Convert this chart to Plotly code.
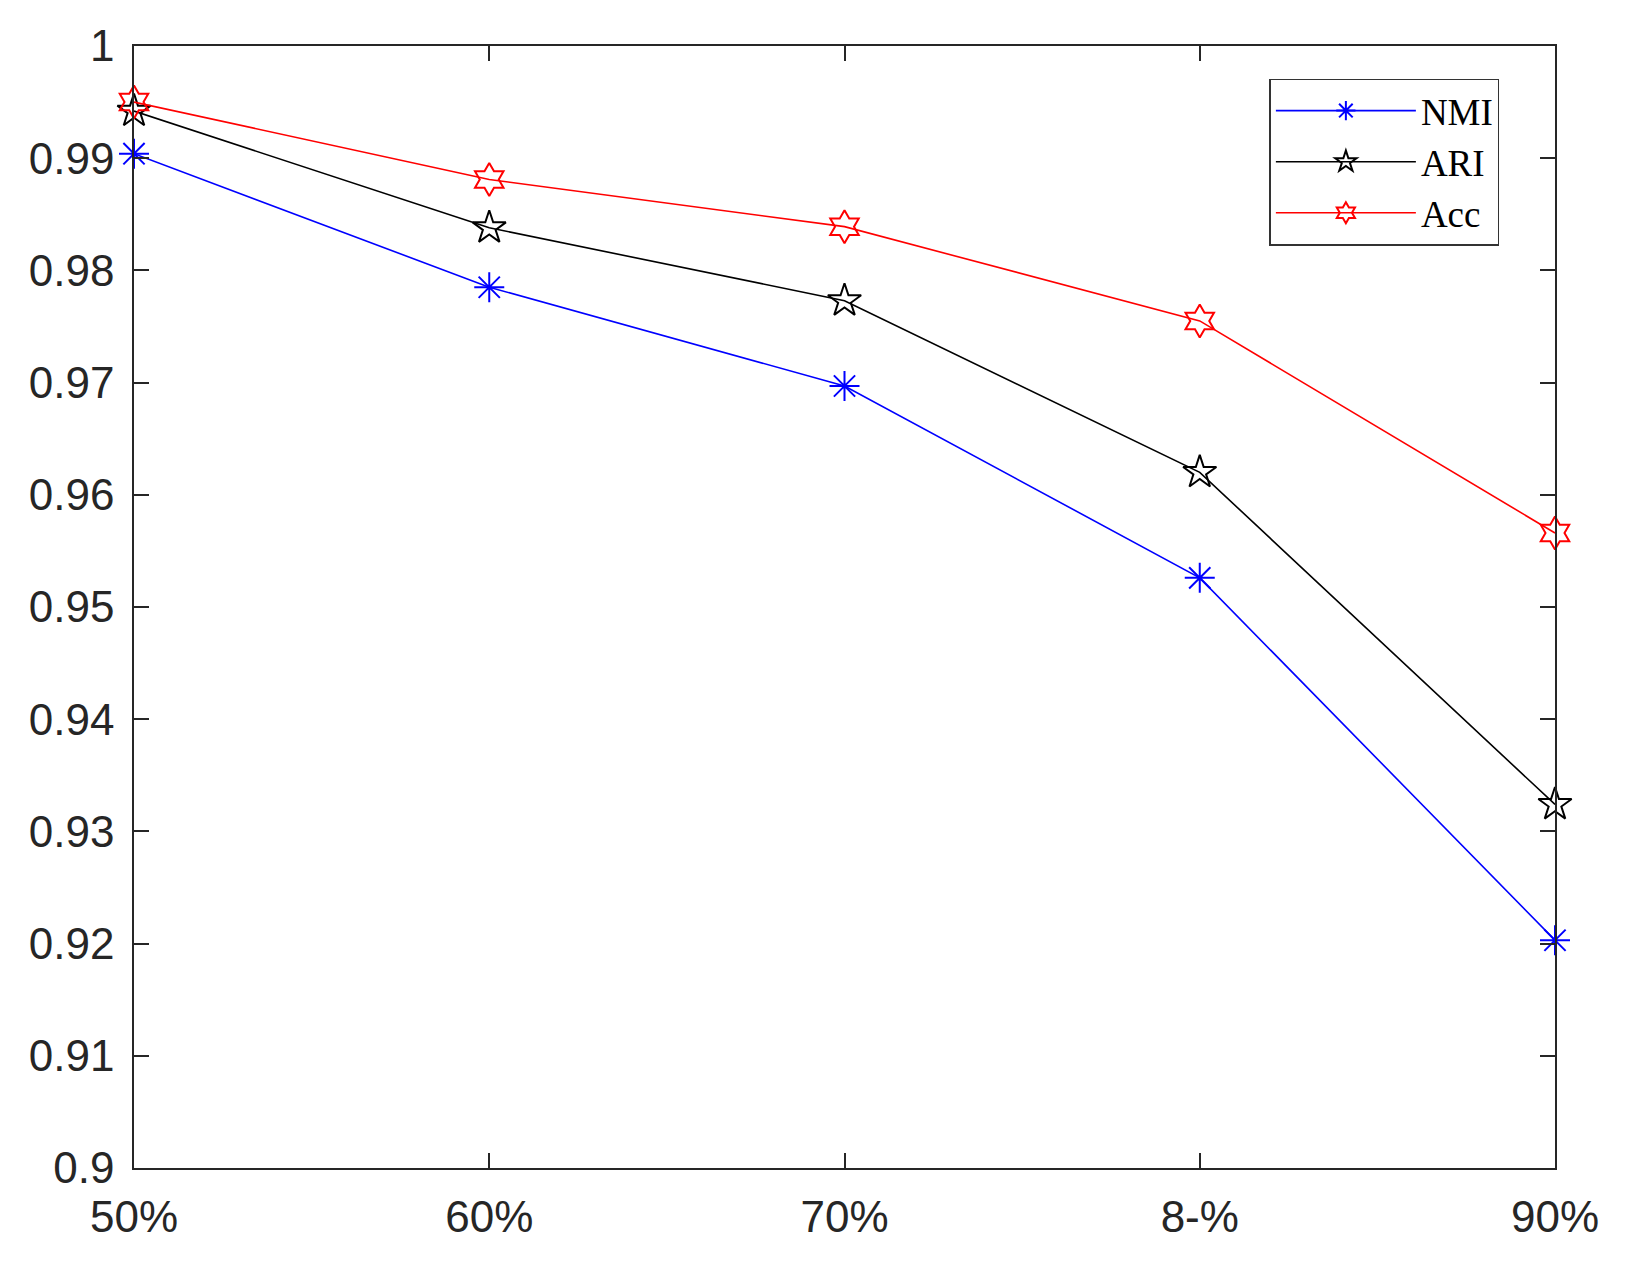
import plotly.graph_objects as go

categories = ["50%", "60%", "70%", "8-%", "90%"]
nmi = [0.9904, 0.9785, 0.9697, 0.9526, 0.9203]
ari = [0.9942, 0.9838, 0.9773, 0.9620, 0.9324]
acc = [0.9950, 0.9881, 0.9839, 0.9755, 0.9566]
y_ticks = [0.9, 0.91, 0.92, 0.93, 0.94, 0.95, 0.96, 0.97, 0.98, 0.99, 1.0]
y_ticktext = ["0.9", "0.91", "0.92", "0.93", "0.94", "0.95", "0.96", "0.97", "0.98", "0.99", "1"]

xpos = list(range(len(categories)))

fig = go.Figure()
series = [
    ("NMI", nmi, "#0000ff", "asterisk-open"),
    ("ARI", ari, "#000000", "star-open"),
    ("Acc", acc, "#ff0000", "hexagram-open"),
]
for name, vals, col, sym in series:
    fig.add_trace(go.Scatter(
        x=xpos, y=vals, name=name, mode="lines+markers",
        line=dict(color=col, width=1.6),
        marker=dict(symbol=sym, size=25, color=col, line=dict(color=col, width=2)),
        cliponaxis=False,
    ))

axis_col = "#262626"
fig.update_layout(
    width=1609, height=1246,
    margin=dict(l=126, r=62, t=38, b=86),
    paper_bgcolor="white", plot_bgcolor="white",
    font=dict(family="Liberation Sans, Arial", size=44, color=axis_col),
    showlegend=True,
    legend=dict(
        x=0.799, y=0.971, xanchor="left", yanchor="top",
        bgcolor="white", bordercolor="#333333", borderwidth=1.5,
        font=dict(family="Liberation Serif, DejaVu Serif", size=37, color="black"),
        itemwidth=140, tracegroupgap=0,
    ),
)
fig.update_xaxes(
    range=[0, 4], tickmode="array", tickvals=xpos, ticktext=categories,
    showgrid=False, zeroline=False, showline=True, linecolor=axis_col, linewidth=1.5,
    mirror="allticks", ticks="inside", ticklen=15, tickwidth=1.5, tickcolor=axis_col,
    tickfont=dict(size=44, color=axis_col), ticklabelstandoff=9,
)
fig.update_yaxes(
    range=[0.9, 1.0], tickmode="array", tickvals=y_ticks, ticktext=y_ticktext,
    showgrid=False, zeroline=False, showline=True, linecolor=axis_col, linewidth=1.5,
    mirror="allticks", ticks="inside", ticklen=15, tickwidth=1.5, tickcolor=axis_col,
    tickfont=dict(size=44, color=axis_col), ticklabelstandoff=9,
)

fig.write_html("out.html")
